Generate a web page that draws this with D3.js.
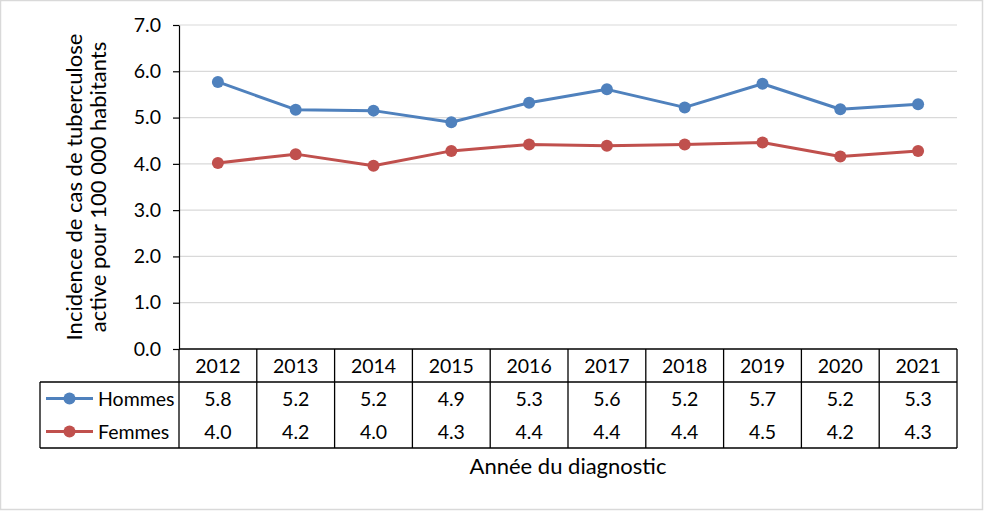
<!DOCTYPE html>
<html><head><meta charset="utf-8">
<script src="https://cdn.jsdelivr.net/npm/d3@7"></script>
<style>body{margin:0;background:#fff;} svg{display:block;font-family:Lato,"Open Sans",sans-serif;}</style>
</head><body>
<svg id="c" width="984" height="511"></svg>
<script>
const years = ["2012","2013","2014","2015","2016","2017","2018","2019","2020","2021"];
const hommes = [5.77,5.17,5.15,4.90,5.32,5.61,5.22,5.73,5.18,5.29];
const femmes = [4.02,4.21,3.96,4.28,4.42,4.39,4.42,4.46,4.16,4.28];
const yTicks = [0,1,2,3,4,5,6,7];
const seriesNames = ["Hommes","Femmes"];
const colors = ["#4f81bd","#c0504d"];

const svg = d3.select("#c");
const L = 179, R = 957, T = 25, B = 349;
const FS = 19.5;
const x = d3.scaleBand().domain(years).range([L,R]);
const y = d3.scaleLinear().domain([0,7]).range([B,T]);

// outer border
svg.append("rect").attr("x",0.5).attr("y",0.5).attr("width",982).attr("height",509)
  .attr("fill","none").attr("stroke","#d9d9d9").attr("stroke-width",1.5);

// gridlines
svg.append("g").selectAll("line").data(yTicks.filter(d=>d>0)).join("line")
  .attr("x1",L).attr("x2",R).attr("y1",d=>y(d)).attr("y2",d=>y(d))
  .attr("stroke","#d9d9d9").attr("stroke-width",1.2);

// y axis
const yAxis = d3.axisLeft(y).tickValues(yTicks).tickFormat(d3.format(".1f")).tickSize(6).tickSizeOuter(0);
const gy = svg.append("g").attr("transform",`translate(${L},0)`).call(yAxis);
gy.select(".domain").attr("stroke","#000").attr("stroke-width",1.2);
gy.selectAll(".tick line").attr("stroke","#000").attr("stroke-width",1.2);
gy.selectAll(".tick text").attr("font-size",FS).attr("fill","#000").attr("x",-18)
  .attr("font-family","Lato,'Open Sans',sans-serif");

// y title
const yt = svg.append("text").attr("transform",`translate(0,187) rotate(-90)`)
  .attr("text-anchor","middle").attr("font-size",22).attr("fill","#000");
yt.append("tspan").attr("x",0).attr("y",82).text("Incidence de cas de tuberculose");
yt.append("tspan").attr("x",0).attr("y",106).text("active pour 100 000 habitants");

// lines
const series = [hommes, femmes];
const line = d3.line().x((d,i)=>x(years[i])+x.bandwidth()/2).y(d=>y(d));
series.forEach((s,k)=>{
  svg.append("path").datum(s).attr("d",line).attr("fill","none")
    .attr("stroke",colors[k]).attr("stroke-width",3).attr("stroke-linejoin","round");
  svg.append("g").selectAll("circle").data(s).join("circle")
    .attr("cx",(d,i)=>x(years[i])+x.bandwidth()/2).attr("cy",d=>y(d)).attr("r",6)
    .attr("fill",colors[k]);
});

// data table
const rowH = 33, hdrB = 382, tableL = 40;
const tb = svg.append("g").attr("stroke","#000").attr("stroke-width",1.3).attr("fill","none");
tb.append("line").attr("x1",L).attr("x2",R).attr("y1",B).attr("y2",B);
tb.append("line").attr("x1",tableL).attr("x2",R).attr("y1",hdrB).attr("y2",hdrB);
tb.append("line").attr("x1",tableL).attr("x2",R).attr("y1",hdrB+2*rowH).attr("y2",hdrB+2*rowH);
tb.append("line").attr("x1",tableL).attr("x2",tableL).attr("y1",hdrB).attr("y2",hdrB+2*rowH);
const bounds = years.map(d=>x(d)).concat([R]);
tb.selectAll("line.v").data(bounds).join("line").attr("class","v")
  .attr("x1",d=>d).attr("x2",d=>d).attr("y1",B).attr("y2",hdrB+2*rowH);

const txt = svg.append("g").attr("font-size",FS).attr("fill","#000").attr("text-anchor","middle");
txt.selectAll("text.h").data(years).join("text").attr("class","h")
  .attr("x",d=>x(d)+x.bandwidth()/2).attr("y",(B+hdrB)/2+7).text(d=>d);
series.forEach((s,k)=>{
  txt.append("g").selectAll("text").data(s).join("text")
    .attr("x",(d,i)=>x(years[i])+x.bandwidth()/2).attr("y",hdrB+rowH*k+rowH/2+7)
    .text(d=>d.toFixed(1));
  const cy = hdrB+rowH*k+rowH/2;
  svg.append("line").attr("x1",46).attr("x2",93).attr("y1",cy).attr("y2",cy)
    .attr("stroke",colors[k]).attr("stroke-width",3);
  svg.append("circle").attr("cx",69.5).attr("cy",cy).attr("r",6).attr("fill",colors[k]);
  svg.append("text").attr("x",98).attr("y",cy+7).attr("font-size",FS).attr("fill","#000").text(seriesNames[k]);
});

// x title
svg.append("text").attr("x",568).attr("y",474).attr("text-anchor","middle")
  .attr("font-size",22).attr("fill","#000").text("Année du diagnostic");
</script>
</body></html>
